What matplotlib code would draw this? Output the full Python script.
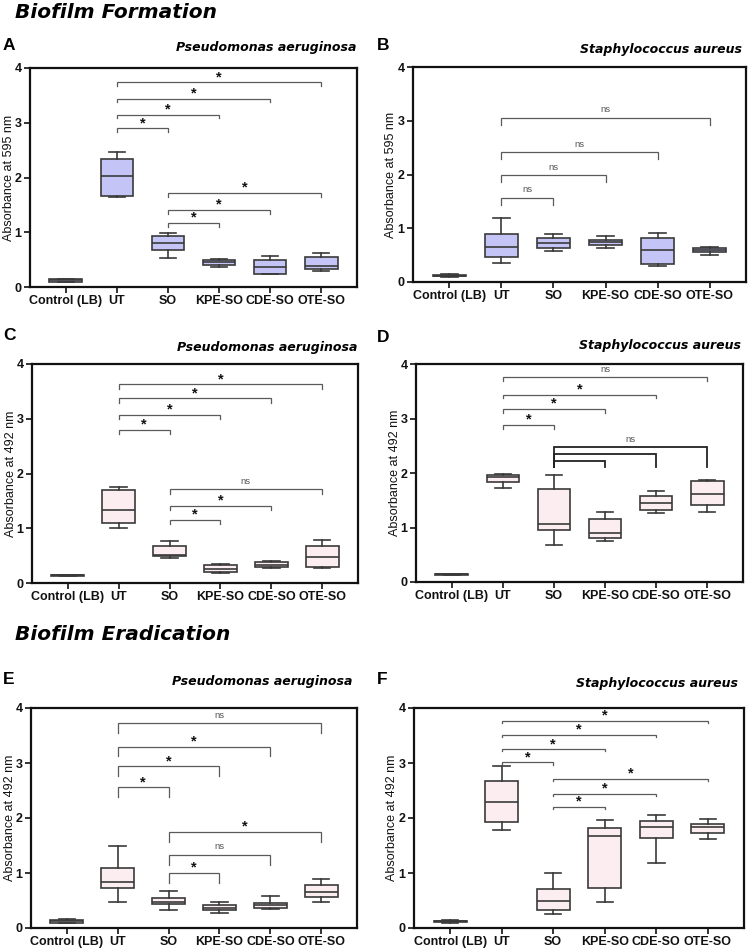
import matplotlib
matplotlib.use("Agg")
import matplotlib.pyplot as plt

W, H = 749, 948

categories = ["Control (LB)", "UT", "SO", "KPE-SO", "CDE-SO", "OTE-SO"]
yticks = [0, 1, 2, 3, 4]

# [whisker low, Q1, median, Q3, whisker high] per category
A_stats = [[0.09, 0.10, 0.12, 0.14, 0.15], [1.64, 1.67, 2.03, 2.33, 2.47],
           [0.53, 0.68, 0.80, 0.94, 0.99], [0.37, 0.41, 0.46, 0.50, 0.52],
           [0.23, 0.24, 0.37, 0.50, 0.56], [0.29, 0.32, 0.39, 0.54, 0.63]]
B_stats = [[0.10, 0.11, 0.12, 0.13, 0.14], [0.35, 0.47, 0.66, 0.90, 1.20],
           [0.58, 0.63, 0.72, 0.82, 0.89], [0.63, 0.68, 0.75, 0.79, 0.85],
           [0.29, 0.33, 0.59, 0.82, 0.92], [0.51, 0.55, 0.59, 0.63, 0.66]]
C_stats = [[0.13, 0.13, 0.14, 0.15, 0.15], [1.01, 1.09, 1.33, 1.70, 1.75],
           [0.46, 0.49, 0.51, 0.67, 0.76], [0.18, 0.21, 0.25, 0.33, 0.35],
           [0.28, 0.29, 0.33, 0.38, 0.41], [0.27, 0.30, 0.47, 0.67, 0.79]]
D_stats = [[0.13, 0.13, 0.14, 0.14, 0.15], [1.73, 1.84, 1.93, 1.97, 1.98],
           [0.67, 0.96, 1.07, 1.70, 1.96], [0.76, 0.81, 0.90, 1.16, 1.29],
           [1.27, 1.32, 1.45, 1.57, 1.67], [1.29, 1.42, 1.62, 1.86, 1.88]]
E_stats = [[0.09, 0.10, 0.12, 0.14, 0.16], [0.47, 0.73, 0.83, 1.09, 1.50],
           [0.33, 0.44, 0.48, 0.54, 0.67], [0.27, 0.32, 0.36, 0.41, 0.48],
           [0.35, 0.36, 0.41, 0.45, 0.59], [0.48, 0.56, 0.65, 0.79, 0.89]]
F_stats = [[0.10, 0.11, 0.12, 0.13, 0.14], [1.78, 1.92, 2.30, 2.68, 2.95],
           [0.26, 0.33, 0.50, 0.71, 1.00], [0.47, 0.72, 1.67, 1.82, 1.97],
           [1.18, 1.63, 1.83, 1.95, 2.06], [1.61, 1.73, 1.84, 1.89, 1.99]]

# significance brackets: (group i, group j, bar height, label)
A_brackets = [(1, 2, 2.90, "*"), (1, 3, 3.15, "*"), (1, 4, 3.44, "*"), (1, 5, 3.74, "*"),
              (2, 3, 1.17, "*"), (2, 4, 1.41, "*"), (2, 5, 1.72, "*")]
B_brackets = [(1, 2, 1.57, "ns"), (1, 3, 1.99, "ns"), (1, 4, 2.42, "ns"), (1, 5, 3.06, "ns")]
C_brackets = [(1, 2, 2.80, "*"), (1, 3, 3.07, "*"), (1, 4, 3.37, "*"), (1, 5, 3.63, "*"),
              (2, 3, 1.15, "*"), (2, 4, 1.41, "*"), (2, 5, 1.71, "ns")]
D_brackets = [(1, 2, 2.88, "*"), (1, 3, 3.18, "*"), (1, 4, 3.44, "*"), (1, 5, 3.76, "ns")]
D_group_brackets = [(2, 3, 2.22, ""), (2, 4, 2.34, ""), (2, 5, 2.47, "ns")]
E_brackets = [(1, 2, 2.56, "*"), (1, 3, 2.94, "*"), (1, 4, 3.30, "*"), (1, 5, 3.72, "ns"),
              (2, 3, 1.00, "*"), (2, 4, 1.33, "ns"), (2, 5, 1.75, "*")]
F_brackets = [(1, 2, 3.01, "*"), (1, 3, 3.25, "*"), (1, 4, 3.51, "*"), (1, 5, 3.77, "*"),
              (2, 3, 2.20, "*"), (2, 4, 2.44, "*"), (2, 5, 2.71, "*")]

BLUE = "#c4c4f7"
PINK = "#fcedf0"
EDGE = "#3a3a3a"
BR = "#5a5a5a"
TF = ["Liberation Sans", "DejaVu Sans"]
VF = ["DejaVu Sans"]

fig = plt.figure(figsize=(W / 100, H / 100), dpi=100)


def px_axes(x0, y0, x1, y1):
    return fig.add_axes([x0 / W, 1 - y1 / H, (x1 - x0) / W, (y1 - y0) / H])


def ftext(x, y, s, **kw):
    fig.text(x / W, 1 - y / H, s, **kw)


def draw_panel(box, stats, color, ylabel, brackets, tick, letter, letter_xy,
               species, species_xy, extra=None):
    ax = px_axes(*box)
    st = []
    for name, s in zip(categories, stats):
        st.append(dict(label=name, whislo=s[0], q1=s[1], med=s[2], q3=s[3], whishi=s[4], fliers=[]))
    ax.bxp(st, positions=range(len(categories)), widths=0.64, patch_artist=True,
           showfliers=False, capwidths=0.32,
           boxprops=dict(facecolor=color, edgecolor=EDGE, linewidth=1.2),
           medianprops=dict(color=EDGE, linewidth=1.2),
           whiskerprops=dict(color=EDGE, linewidth=1.2),
           capprops=dict(color=EDGE, linewidth=1.2))
    for i, j, y, lab in brackets:
        ax.plot([i, i, j, j], [y - tick, y, y, y - tick], color=BR, lw=0.9, solid_joinstyle="miter")
        xm = (i + j) / 2
        if lab == "*":
            ax.text(xm, y + 0.02, "*", ha="center", va="baseline", fontsize=10.5,
                    fontweight="bold", family=TF, color="#111111")
        elif lab:
            ax.text(xm, y + 0.10, lab, ha="center", va="baseline", fontsize=6.8,
                    family=TF, color="#555555")
    if extra:
        extra(ax)
    ax.set_xlim(-0.7, 5.7)
    ax.set_ylim(0, 4)
    ax.set_yticks(yticks)
    ax.set_yticklabels([str(t) for t in yticks])
    ax.set_xticks(range(len(categories)))
    ax.set_xticklabels(categories)
    for lab in ax.get_xticklabels() + ax.get_yticklabels():
        lab.set_fontweight("bold")
        lab.set_fontfamily(TF)
        lab.set_fontsize(9)
    ax.tick_params(axis="both", length=4, width=1.2, direction="out", pad=2, colors="#111111")
    ax.set_ylabel(ylabel, fontsize=9, family=TF, color="#111111")
    ax.yaxis.set_label_coords(-0.047, 0.5)
    for sp in ax.spines.values():
        sp.set_linewidth(1.6)
        sp.set_color("#111111")
    ftext(letter_xy[0], letter_xy[1], letter, fontsize=12.5, fontweight="bold", family=TF,
          ha="left", va="center")
    ftext(species_xy[0], species_xy[1], species, fontsize=9, fontweight="bold",
          style="italic", family=VF, ha="right", va="center")
    return ax


def d_extra(ax):
    for i, j, y, lab in D_group_brackets:
        ax.plot([i, i, j, j], [2.11, y, y, 2.11], color="#222222", lw=1.3, solid_joinstyle="miter")
        if lab:
            ax.text((i + j) / 2, y + 0.10, lab, ha="center", va="baseline", fontsize=6.8,
                    family=TF, color="#555555")


PA = "Pseudomonas aeruginosa"
SA = "Staphylococcus aureus"

draw_panel((30, 68, 357, 287), A_stats, BLUE, "Absorbance at 595 nm", A_brackets, 0.07,
           "A", (3, 45), PA, (356, 47))
draw_panel((413, 67, 746, 282), B_stats, BLUE, "Absorbance at 595 nm", B_brackets, 0.13,
           "B", (377, 45), SA, (742, 49))
draw_panel((32, 364, 358, 583), C_stats, PINK, "Absorbance at 492 nm", C_brackets, 0.08,
           "C", (3, 336), PA, (357, 347))
draw_panel((416, 364, 743, 582), D_stats, PINK, "Absorbance at 492 nm", D_brackets, 0.07,
           "D", (377, 337), SA, (741, 346), extra=d_extra)
draw_panel((31, 708, 357, 928), E_stats, PINK, "Absorbance at 492 nm", E_brackets, 0.18,
           "E", (3, 680), PA, (352, 682))
draw_panel((414, 708, 744, 928), F_stats, PINK, "Absorbance at 492 nm", F_brackets, 0.04,
           "F", (377, 680), SA, (738, 683))

ftext(15, 12, "Biofilm Formation", fontsize=14.5, fontweight="bold", style="italic",
      family=VF, ha="left", va="center")
ftext(15, 634, "Biofilm Eradication", fontsize=14.5, fontweight="bold", style="italic",
      family=VF, ha="left", va="center")

fig.savefig("out.png", dpi=100)
